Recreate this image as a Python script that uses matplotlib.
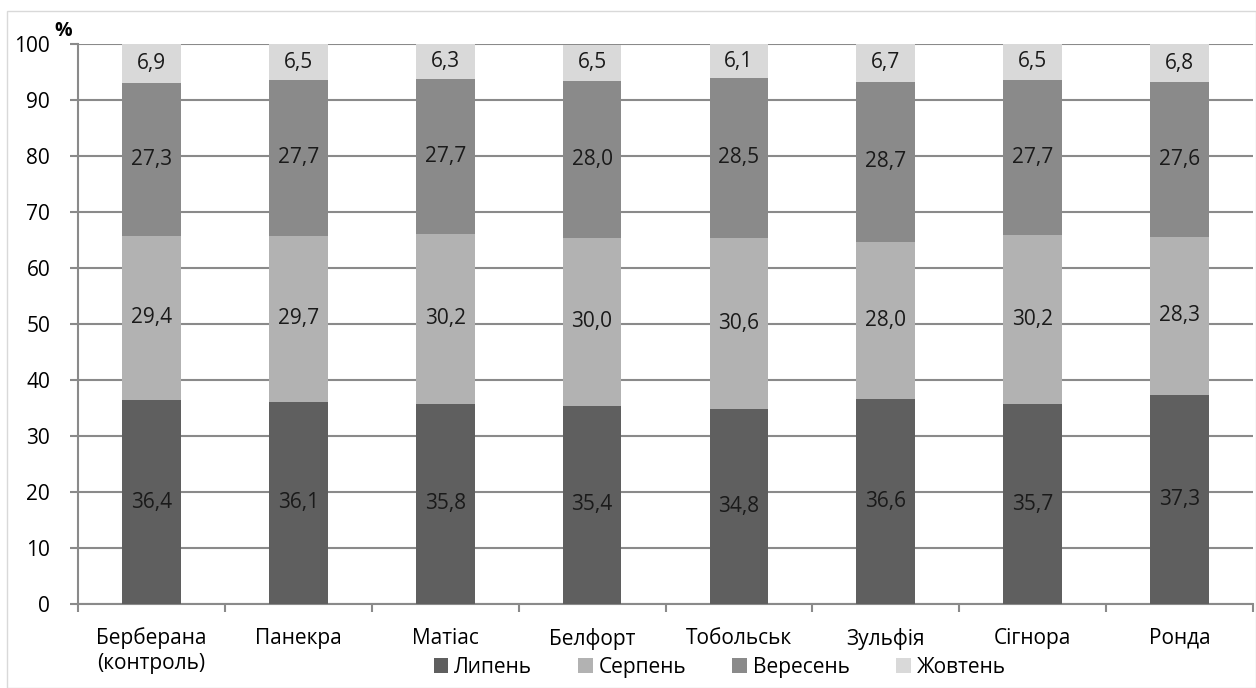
import numpy as np
import matplotlib.pyplot as plt
from matplotlib.patches import Rectangle

plt.rcParams['font.family'] = ['Open Sans', 'DejaVu Sans']

varieties = ['Берберана\n(контроль)', 'Панекра', 'Матіас', 'Белфорт',
             'Тобольськ', 'Зульфія', 'Сігнора', 'Ронда']
months = ['Липень', 'Серпень', 'Вересень', 'Жовтень']

july = [36.4, 36.1, 35.8, 35.4, 34.8, 36.6, 35.7, 37.3]
august = [29.4, 29.7, 30.2, 30.0, 30.6, 28.0, 30.2, 28.3]
september = [27.3, 27.7, 27.7, 28.0, 28.5, 28.7, 27.7, 27.6]
october = [6.9, 6.5, 6.3, 6.5, 6.1, 6.7, 6.5, 6.8]

colors = ['#5f5f5f', '#b2b2b2', '#8a8a8a', '#d9d9d9']
fs = 15

fig = plt.figure(figsize=(12.56, 6.88), dpi=100)
ax = fig.add_axes([78 / 1256, 84 / 688, 1175 / 1256, 560 / 688])

# thin frame round the whole chart area
fig.patches.append(Rectangle((7 / 1256, 0), 1249 / 1256, 677 / 688,
                             transform=fig.transFigure, fill=False,
                             edgecolor='#d9d9d9', linewidth=1))

x = np.arange(len(varieties))
bottom = np.zeros(len(varieties))
for name, vals, c in zip(months, [july, august, september, october], colors):
    vals = np.array(vals)
    ax.bar(x, vals, 0.4, bottom=bottom, color=c, label=name, zorder=3)
    for xi, b, v in zip(x, bottom, vals):
        ax.text(xi, b + v / 2, f'{v:.1f}'.replace('.', ','), ha='center',
                va='center', fontsize=fs, color='#1a1a1a', zorder=4)
    bottom += vals

ax.set_xlim(-0.5, len(varieties) - 0.5)
ax.set_ylim(0, 100)
ax.set_yticks(np.arange(0, 101, 10))
ax.yaxis.grid(True, color='#8a8a8a', linewidth=1.5, zorder=1)
ax.set_xticks(x)
ax.set_xticklabels(varieties, fontsize=fs)
ax.set_xticks(np.arange(-0.5, len(varieties), 1), minor=True)
ax.tick_params(axis='x', which='major', length=0, pad=17)
ax.tick_params(axis='x', which='minor', length=6, color='#8a8a8a', width=1.5)
ax.tick_params(axis='y', length=6, color='#8a8a8a', width=1.5,
               labelsize=fs, pad=14)

for side in ['top', 'right']:
    ax.spines[side].set_visible(False)
for side in ['left', 'bottom']:
    ax.spines[side].set_color('#8a8a8a')
    ax.spines[side].set_linewidth(1.5)

ax.text(-0.02, 1.005, '%', transform=ax.transAxes, fontsize=fs - 1,
        fontweight='bold', ha='left', va='bottom')

fig.legend(loc='lower center', bbox_to_anchor=(0.573, -0.012), ncol=4,
           frameon=False, fontsize=fs, handlelength=0.7, handleheight=0.7,
           handletextpad=0.3, columnspacing=2.2)

fig.savefig('out.png', dpi=100)
